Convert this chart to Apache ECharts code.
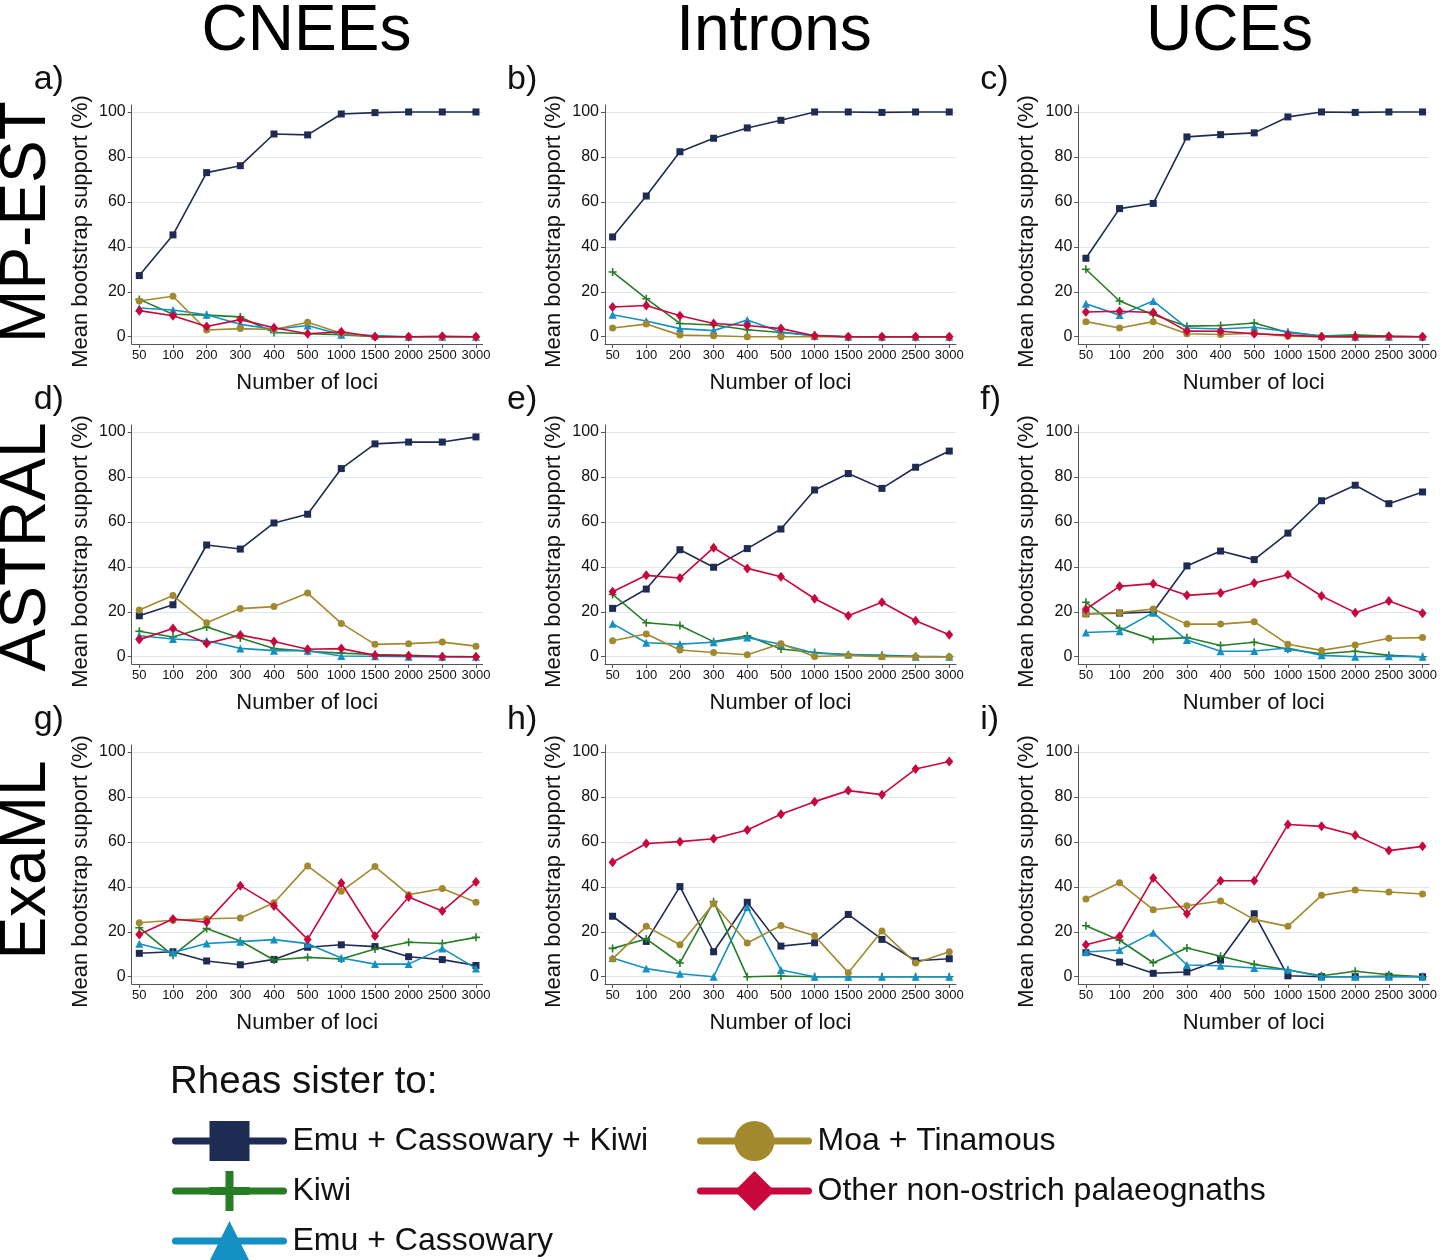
<!DOCTYPE html>
<html>
<head>
<meta charset="utf-8">
<script src="https://cdn.jsdelivr.net/npm/echarts@6/dist/echarts.min.js"></script>
<style>
  html, body { margin: 0; padding: 0; background: #fff; }
  #container { width: 1440px; height: 1260px; }
</style>
</head>
<body>
<div id="container"></div>
<script>
// x categories and groups
var loci = ['50', '100', '200', '300', '400', '500', '1000', '1500', '2000', '2500', '3000'];
var groups = ['Emu + Cassowary + Kiwi', 'Kiwi', 'Emu + Cassowary', 'Moa + Tinamous', 'Other non-ostrich palaeognaths'];
var yTicks = [0, 20, 40, 60, 80, 100];

// each panel: [emu+cass+kiwi, kiwi, emu+cass, moa+tinamous, other]
var cneesMpest = [
    [27.2, 45.3, 73, 76.1, 90.2, 89.8, 99.1, 99.7, 100, 100, 100],
    [16.6, 10, 9.6, 8.8, 1.9, 1.3, 0.9, 0, 0, 0, 0],
    [12.8, 11.9, 9.8, 5.5, 3.3, 5, 0.9, 0.5, 0, 0, 0],
    [15.9, 18, 3, 3.6, 3.2, 6.4, 1.5, 0, 0, 0, 0],
    [11.6, 9.3, 4.5, 7.6, 4, 1.3, 2.2, 0, 0, 0.2, 0]
];
var intronsMpest = [
    [44.4, 62.6, 82.3, 88.3, 92.9, 96.3, 100, 100, 99.8, 100, 100],
    [28.8, 16.9, 5.9, 5.2, 3.1, 1.9, 0.6, 0, 0, 0, 0],
    [9.8, 7, 3.6, 2.7, 7.4, 2.1, 0.3, 0, 0, 0, 0],
    [3.9, 5.6, 0.7, 0.4, 0, 0, 0, 0, 0, 0, 0],
    [13.2, 13.9, 9.3, 5.9, 5, 3.6, 0.4, 0, 0, 0, 0]
];
var ucesMpest = [
    [34.9, 57, 59.3, 88.9, 89.9, 90.7, 97.8, 100, 99.8, 100, 100],
    [30, 15.9, 9.8, 4.7, 5, 6.1, 1.9, 0.3, 0.8, 0.2, 0],
    [14.7, 9.6, 15.9, 3.9, 3.4, 4.2, 2.2, 0.3, 0, 0, 0],
    [6.7, 3.9, 6.7, 1.3, 1, 1.6, 0.2, 0, 0, 0, 0],
    [11, 11.3, 10.8, 2.5, 2.4, 1.3, 0.7, 0, 0, 0.2, 0]
];
var cneesAstral = [
    [18.2, 23.1, 49.7, 47.9, 59.5, 63.4, 83.7, 94.7, 95.5, 95.5, 97.8],
    [11.3, 8.8, 13.2, 8.3, 3.6, 2.4, 1.6, 1, 0.6, 0.2, 0],
    [9.3, 7.9, 7.1, 3.7, 2.7, 2.7, 0.3, 0.2, 0, 0, 0],
    [20.8, 27.2, 15.1, 21.4, 22.3, 28.3, 14.8, 5.5, 5.8, 6.5, 4.7],
    [7.6, 12.5, 5.9, 9.6, 6.8, 3.3, 3.6, 0.6, 0.4, 0, 0]
];
var intronsAstral = [
    [21.5, 30.1, 47.6, 39.8, 48.1, 56.8, 74.2, 81.5, 74.9, 84.3, 91.5],
    [27.7, 15.1, 13.9, 6.7, 9.3, 3.4, 1.9, 0.9, 0.6, 0.2, 0],
    [14.7, 6.2, 5.6, 6.4, 8.5, 5.5, 1.5, 1, 0.4, 0, 0],
    [7.1, 10.1, 3, 1.9, 0.9, 5.8, 0.1, 0.5, 0, 0, 0],
    [28.9, 36.2, 35, 48.5, 39.3, 35.6, 25.8, 18.2, 24.2, 16, 9.8]
];
var ucesAstral = [
    [19.1, 19.4, 19.9, 40.4, 47, 43.2, 55, 69.4, 76.3, 68.1, 73.3],
    [24.2, 12.6, 7.7, 8.5, 5, 6.4, 3.3, 1.3, 2.4, 0.6, 0],
    [10.8, 11.3, 19.6, 7.4, 2.4, 2.5, 3.9, 0.6, 0, 0.2, 0],
    [19, 19.6, 21.2, 14.5, 14.5, 15.6, 5.5, 2.8, 5.2, 8.2, 8.5],
    [21.1, 31.3, 32.5, 27.3, 28.3, 32.8, 36.5, 27, 19.6, 24.8, 19.3]
];
var cneesExaml = [
    [10.4, 11.1, 7, 5.3, 7.7, 13.1, 14.2, 13.4, 8.9, 7.6, 5],
    [21.8, 9.5, 21.4, 15.9, 7.4, 8.6, 7.9, 12.3, 15.3, 14.8, 17.5],
    [14.7, 10.8, 14.8, 15.6, 16.5, 14.7, 8.3, 5.6, 5.6, 12.6, 3.7],
    [24, 25.1, 25.8, 26.1, 32.9, 49.3, 38, 49, 36.5, 39.2, 33.1],
    [18.8, 25.7, 24.3, 40.5, 31.5, 16.6, 41.7, 18.1, 35.5, 29.2, 42.1]
];
var intronsExaml = [
    [26.9, 15.7, 40.1, 11.1, 33.1, 13.6, 15.1, 27.7, 16.6, 7.1, 8],
    [12.6, 16.8, 6.1, 33.4, 0, 0.3, 0, 0, 0, 0, 0],
    [8.3, 3.6, 1.3, 0, 31, 3, 0, 0, 0, 0, 0],
    [7.9, 22.4, 14.2, 32.5, 15, 22.8, 18.2, 1.8, 20.3, 6.1, 11.1],
    [50.9, 59.3, 60.1, 61.4, 65.3, 72.3, 77.9, 82.8, 81, 92.4, 95.8]
];
var ucesExaml = [
    [10.7, 6.5, 1.5, 2.1, 7.4, 28, 0.4, 0, 0, 0.2, 0],
    [22.7, 16.2, 6.2, 12.8, 9.1, 5.5, 3, 0.4, 2.4, 0.9, 0],
    [11, 11.9, 19.6, 5.2, 4.9, 3.9, 3.1, 0, 0, 0, 0],
    [34.6, 41.8, 29.8, 31.6, 33.7, 25.5, 22.4, 36.2, 38.6, 37.7, 36.8],
    [14.2, 18, 43.9, 28, 42.7, 42.7, 67.7, 66.9, 62.9, 56.1, 58]
];

var panels = [cneesMpest, intronsMpest, ucesMpest, cneesAstral, intronsAstral, ucesAstral, cneesExaml, intronsExaml, ucesExaml];
var panelLabels = ['a)', 'b)', 'c)', 'd)', 'e)', 'f)', 'g)', 'h)', 'i)'];
var colTitles = ['CNEEs', 'Introns', 'UCEs'];
var rowTitles = ['MP-EST', 'ASTRAL', 'ExaML'];

var colors = ['#1e2b52', '#267d26', '#1590c2', '#a3892e', '#c8083c'];
var plusPath = 'path://M4,0h2v4h4v2h-4v4h-2v-4h-4v-2h4z';
var symbols = ['rect', plusPath, 'triangle', 'circle', 'diamond'];
var symbolSizes = [7, 8, 8, 7, [8, 10]];

var FONT = '"Liberation Sans", Arial, Helvetica, sans-serif';
var colLeft = [131.7, 605, 1078.3];
var rowTop = [105, 425, 745];
var gridW = 351, gridH = 239;

var dom = document.getElementById('container');
var myChart = echarts.init(dom, null, { renderer: 'canvas' });

var grids = [], xAxes = [], yAxes = [], series = [], graphics = [];
var idx = loci.map(function (d, i) { return i; });

panels.forEach(function (panel, p) {
    var r = Math.floor(p / 3), c = p % 3;
    grids.push({ left: colLeft[c], top: rowTop[r], width: gridW, height: gridH, containLabel: false });
    xAxes.push({
        gridIndex: p,
        type: 'value',
        min: -0.226,
        max: 10.2,
        name: 'Number of loci',
        nameLocation: 'middle',
        nameGap: 28,
        nameTextStyle: { fontSize: 22, color: '#111', fontFamily: FONT },
        axisLine: { show: true, onZero: false, lineStyle: { color: '#555', width: 1 } },
        axisTick: { show: true, customValues: idx, length: 4, lineStyle: { color: '#555' } },
        axisLabel: {
            customValues: idx,
            formatter: function (v) { return loci[Math.round(v)]; },
            fontSize: 13, color: '#111', margin: 5, fontFamily: FONT
        },
        splitLine: { show: false }
    });
    yAxes.push({
        gridIndex: p,
        type: 'value',
        min: -3.25,
        max: 103.1,
        name: 'Mean bootstrap support (%)',
        nameLocation: 'middle',
        nameGap: 40,
        nameTextStyle: { fontSize: 22, color: '#111', fontFamily: FONT, padding: [0, 14, 0, 0] },
        axisLine: { show: true, onZero: false, lineStyle: { color: '#555', width: 1 } },
        axisTick: { show: true, customValues: yTicks, length: 4, lineStyle: { color: '#555' } },
        axisLabel: { customValues: yTicks, fontSize: 16, color: '#111', margin: 6, fontFamily: FONT },
        splitLine: { show: true, lineStyle: { color: '#e0e8ef', width: 1 } }
    });
    panel.forEach(function (vals, s) {
        series.push({
            type: 'line',
            name: groups[s],
            xAxisIndex: p,
            yAxisIndex: p,
            data: vals.map(function (v, i) { return [i, v]; }),
            symbol: symbols[s],
            symbolSize: symbolSizes[s],
            showAllSymbol: true,
            clip: false,
            lineStyle: { color: colors[s], width: 1.6 },
            itemStyle: { color: colors[s] },
            z: 2 + s
        });
    });
    graphics.push({
        type: 'text', left: colLeft[c] - 98, top: rowTop[r] - 42,
        style: { text: panelLabels[p], font: '34px ' + FONT, fill: '#111' }
    });
});

colTitles.forEach(function (t, c) {
    graphics.push({
        type: 'text', x: [306.5, 774, 1229.5][c], y: 32,
        style: { text: t, font: '64px ' + FONT, fill: '#000', align: 'center', verticalAlign: 'middle' }
    });
});
rowTitles.forEach(function (t, r) {
    graphics.push({
        type: 'text', x: 27, y: [222, 547, 860][r], rotation: Math.PI / 2,
        style: { text: t, font: '64px ' + FONT, fill: '#000', align: 'center', verticalAlign: 'middle' }
    });
});
graphics.push({
    type: 'text', x: 170, y: 1082,
    style: { text: 'Rheas sister to:', font: '38.5px ' + FONT, fill: '#111', verticalAlign: 'middle' }
});

var legendCommon = {
    orient: 'vertical',
    top: 1121,
    height: 220,
    padding: 0,
    itemWidth: 108,
    itemHeight: 50,
    itemGap: 10,
    lineStyle: { width: 7, cap: 'round' },
    textStyle: { fontSize: 32, color: '#111', fontFamily: FONT, padding: [0, 0, 0, 4] },
    selectedMode: true
};

var option = {
    animation: false,
    backgroundColor: '#fff',
    textStyle: { fontFamily: FONT },
    grid: grids,
    xAxis: xAxes,
    yAxis: yAxes,
    series: series,
    graphic: graphics,
    legend: [
        Object.assign({}, legendCommon, { left: 172, data: groups.slice(0, 3) }),
        Object.assign({}, legendCommon, { left: 697, data: groups.slice(3) })
    ]
};

myChart.setOption(option);
</script>
</body>
</html>
